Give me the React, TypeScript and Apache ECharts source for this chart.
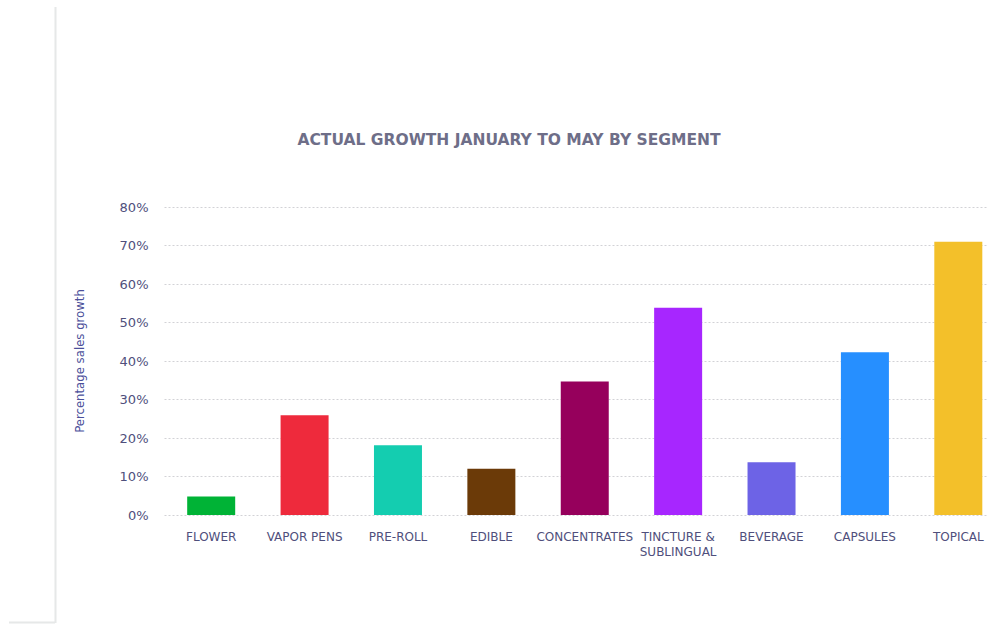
import React, { useEffect, useRef } from "react";
import * as echarts from "echarts";

const categories = [
  "FLOWER",
  "VAPOR PENS",
  "PRE-ROLL",
  "EDIBLE",
  "CONCENTRATES",
  "TINCTURE &\nSUBLINGUAL",
  "BEVERAGE",
  "CAPSULES",
  "TOPICAL",
];
const growthValues = [4.8, 25.9, 18.1, 12.0, 34.7, 53.8, 13.7, 42.3, 71.0];
const barColors = [
  "#00b336",
  "#ee2a3c",
  "#14cdb0",
  "#6b3a08",
  "#96005c",
  "#a726ff",
  "#6d63e6",
  "#268fff",
  "#f3c02a",
];
const yTicks = [0, 10, 20, 30, 40, 50, 60, 70, 80];

export default function App() {
  const ref = useRef<HTMLDivElement>(null);
  useEffect(() => {
    if (!ref.current) return;
    const chart = echarts.init(ref.current, null, { renderer: "svg" });
    const labelColor = "#4f4f7c";
    chart.setOption({
      animation: false,
      backgroundColor: "#ffffff",
      title: {
        text: "ACTUAL GROWTH JANUARY TO MAY BY SEGMENT",
        left: 504,
        textAlign: "center",
        top: 127,
        textStyle: {
          fontFamily: "DejaVu Sans",
          fontWeight: "bold",
          fontSize: 15.5,
          color: "#6e6e88",
        },
      },
      graphic: [
        {
          type: "line",
          shape: { x1: 55.5, y1: 7, x2: 55.5, y2: 623 },
          style: { stroke: "#e6e8e8", lineWidth: 2 },
        },
        {
          type: "line",
          shape: { x1: 9, y1: 622.5, x2: 55, y2: 622.5 },
          style: { stroke: "#e6e8e8", lineWidth: 2 },
        },
      ],
      grid: { left: 164.5, right: 0, top: 207, bottom: 110 },
      xAxis: {
        type: "category",
        data: categories,
        axisLine: { show: false },
        axisTick: { show: false },
        axisLabel: {
          interval: 0,
          margin: 14,
          color: labelColor,
          fontFamily: "DejaVu Sans",
          fontSize: 12,
          lineHeight: 15,
        },
      },
      yAxis: {
        type: "value",
        min: 0,
        max: 80,
        interval: 10,
        name: "Percentage sales growth",
        nameLocation: "middle",
        nameGap: 79,
        nameRotate: 90,
        nameTextStyle: {
          color: "#4b4f9a",
          fontFamily: "DejaVu Sans Condensed, Roboto, sans-serif",
          fontSize: 13,
        },
        axisLine: { show: false },
        axisTick: { show: false },
        axisLabel: {
          margin: 16,
          color: labelColor,
          fontFamily: "DejaVu Sans",
          fontSize: 13,
          formatter: (v: number) => (yTicks.includes(v) ? v + "%" : ""),
        },
        splitLine: {
          lineStyle: { color: "#d2d2d6", type: [2, 2], width: 1 },
        },
      },
      series: [
        {
          type: "bar",
          barWidth: 48,
          data: growthValues.map((v, i) => ({
            value: v,
            itemStyle: { color: barColors[i] },
          })),
        },
      ],
    });
    return () => chart.dispose();
  }, []);
  return (
    <div
      style={{
        position: "absolute",
        left: 0,
        top: 0,
        width: 987,
        height: 625,
        overflow: "hidden",
        background: "#fff",
      }}
    >
      <div ref={ref} style={{ width: 1005, height: 625 }} />
    </div>
  );
}
